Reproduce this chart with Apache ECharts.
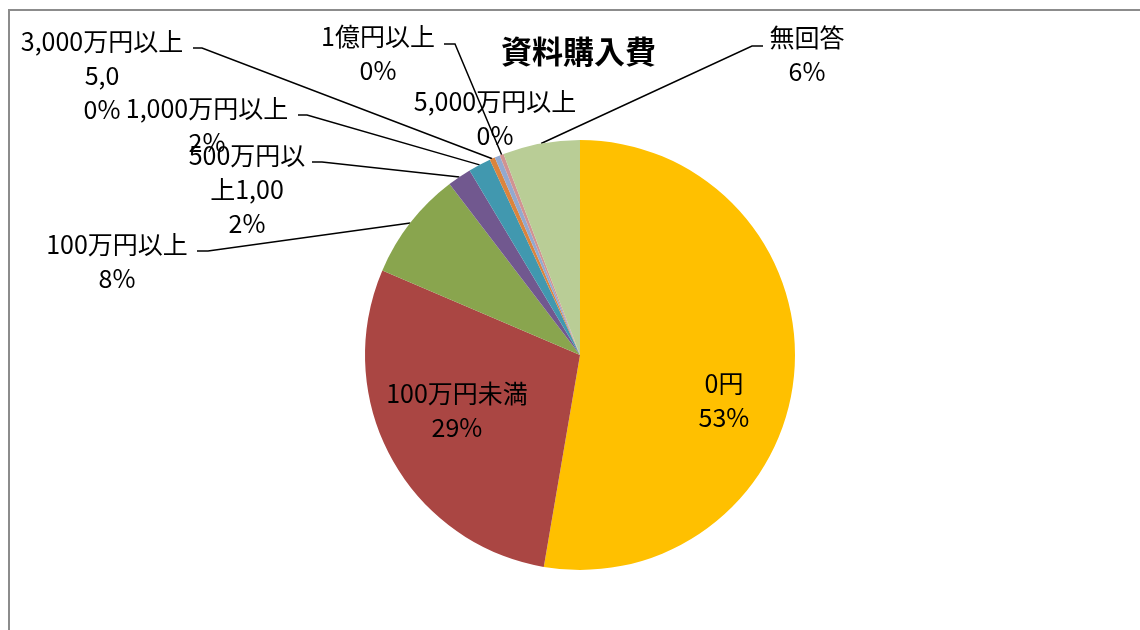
<!DOCTYPE html>
<html>
<head>
<meta charset="utf-8">
<title>資料購入費</title>
<script src="https://cdn.jsdelivr.net/npm/echarts@6/dist/echarts.min.js"></script>
<style>
    html, body { margin: 0; padding: 0; background: #fff; }
    #chart { width: 1140px; height: 630px; }
</style>
</head>
<body>
<div id="chart"></div>
<script>
    // 区分と割合（%）
    const categories = ['0円', '100万円未満', '100万円以上', '500万円以上1,00', '1,000万円以上',
        '3,000万円以上5,0', '5,000万円以上', '1億円以上', '無回答']
    const values = [52.8, 28.8, 8.2, 1.8, 1.7, 0.4, 0.4, 0.3, 5.8]
    const colors = ['#FFC000', '#AA4643', '#89A54E', '#71588F', '#4198AF',
        '#DB843D', '#93A9CF', '#D19392', '#B9CD96']

    // ラベル位置（ブロック中心）、改行位置、引き出し線の折れ点
    const labelPos = [
        {x: 724, y: 400, brk: 0},
        {x: 457, y: 410, brk: 0},
        {x: 117, y: 261, brk: 0, elbow: [208, 251], end: [197, 251]},
        {x: 247, y: 189, brk: 6, elbow: [322, 162], end: [312, 162]},
        {x: 207, y: 125, brk: 0, elbow: [307, 115], end: [298, 115]},
        {x: 102, y: 75, brk: 9, elbow: [202, 48], end: [193, 48]},
        {x: 495, y: 118, brk: 0},
        {x: 378, y: 53, brk: 0, elbow: [455, 44], end: [444, 44]},
        {x: 807, y: 54, brk: 0, elbow: [752, 46], end: [763, 46]}
    ]

    const font = '"Noto Sans CJK JP", "Noto Sans", sans-serif'
    const chart = echarts.init(document.getElementById('chart'))

    chart.setOption({
        animation: false,
        color: colors,
        title: {
            text: '資料購入費',
            left: 501,
            top: 36,
            padding: 0,
            textStyle: {
                fontFamily: font,
                fontSize: 31,
                fontWeight: 'bold',
                color: '#000'
            }
        },
        graphic: [{
            type: 'rect',
            z: -1,
            shape: {x: 9, y: 10, width: 1200, height: 700},
            style: {fill: 'none', stroke: '#8c8c8c', lineWidth: 2}
        }],
        series: [{
            type: 'pie',
            center: [580, 355],
            radius: 215,
            startAngle: 90,
            avoidLabelOverlap: false,
            data: categories.map((name, i) => ({
                name: name,
                value: values[i],
                label: {position: i < 2 ? 'inside' : 'outside'},
                labelLine: {show: !!labelPos[i].elbow}
            })),
            label: {
                color: '#000',
                fontFamily: font,
                fontSize: 25,
                lineHeight: 34,
                formatter (p) {
                    const brk = labelPos[p.dataIndex].brk
                    const name = brk ? p.name.slice(0, brk) + '\n' + p.name.slice(brk) : p.name
                    return name + '\n' + p.percent + '%'
                }
            },
            percentPrecision: 0,
            labelLine: {
                lineStyle: {color: '#000', width: 1.5}
            },
            labelLayout (params) {
                const pos = labelPos[params.dataIndex]
                const result = {x: pos.x, y: pos.y, align: 'center', verticalAlign: 'middle'}
                if (pos.elbow && params.labelLinePoints) {
                    result.labelLinePoints = [params.labelLinePoints[0], pos.elbow, pos.end]
                }
                return result
            }
        }]
    })
</script>
</body>
</html>
